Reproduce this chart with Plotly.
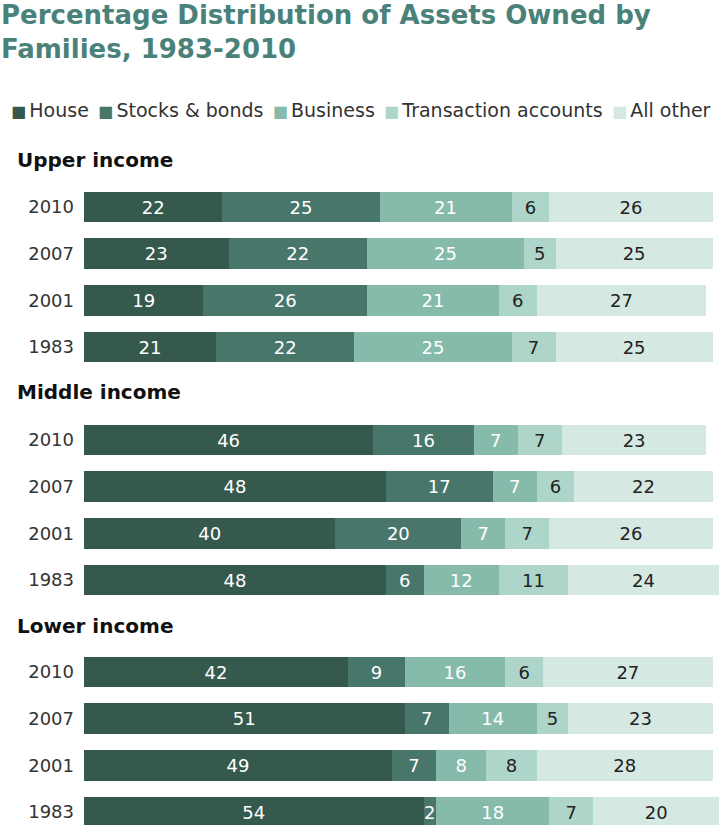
import plotly.graph_objects as go

# ---- data ----
years = ["2010", "2007", "2001", "1983"]
groups = ["Upper income", "Middle income", "Lower income"]
series = ["House", "Stocks & bonds", "Business", "Transaction accounts", "All other"]

# values ordered: Upper (2010, 2007, 2001, 1983), Middle (...), Lower (...)
house       = [22, 23, 19, 21,  46, 48, 40, 48,  42, 51, 49, 54]
stocks      = [25, 22, 26, 22,  16, 17, 20, 6,   9, 7, 7, 2]
business    = [21, 25, 21, 25,  7, 7, 7, 12,     16, 14, 8, 18]
transaction = [6, 5, 6, 7,      7, 6, 7, 11,     6, 5, 8, 7]
all_other   = [26, 25, 27, 25,  23, 22, 26, 24,  27, 23, 28, 20]

values = [house, stocks, business, transaction, all_other]
colors = ["#36594d", "#48766a", "#86bbab", "#aed5c9", "#d5e8e2"]
text_colors = ["#ffffff", "#ffffff", "#ffffff", "#222222", "#222222"]

title_text = "Percentage Distribution of Assets Owned by<br>Families, 1983-2010"

# ---- layout helpers (pixels -> paper) ----
W, H = 719, 825
ML = 84
PW = W - ML


def py(p):
    return 1 - p / H


def px(p):
    return (p - ML) / PW


row_px = 46.67
sub_tops = [183.7, 416.7, 648.7]
header_y = [160, 392, 626]

fig = go.Figure()

for g in range(3):
    ax = "" if g == 0 else str(g + 1)
    for s in range(5):
        vals = values[s][g * 4:(g + 1) * 4]
        fig.add_trace(go.Bar(
            y=years,
            x=vals,
            orientation="h",
            name=series[s],
            marker=dict(color=colors[s], line=dict(width=0)),
            text=[str(v) for v in vals],
            textposition="inside",
            insidetextanchor="middle",
            textangle=0,
            insidetextfont=dict(family="DejaVu Sans", size=18, color=text_colors[s]),
            width=0.66,
            showlegend=False,
            hoverinfo="skip",
            xaxis="x" + ax,
            yaxis="y" + ax,
        ))

layout_axes = {}
for g in range(3):
    ax = "" if g == 0 else str(g + 1)
    top = sub_tops[g]
    bottom = min(top + 4 * row_px, H)
    rng_bottom = -0.5 + (bottom - top) / row_px
    layout_axes["xaxis" + ax] = dict(domain=[0, 1], range=[0, 101], visible=False,
                                     anchor="y" + ax, fixedrange=True)
    layout_axes["yaxis" + ax] = dict(domain=[py(bottom), py(top)], anchor="x" + ax,
                                     type="category", categoryorder="array",
                                     categoryarray=years, range=[rng_bottom, -0.5],
                                     showgrid=False, zeroline=False, showline=False,
                                     ticks="", ticklabelstandoff=9,
                                     tickfont=dict(family="DejaVu Sans", size=18, color="#333333"),
                                     fixedrange=True)

fig.update_layout(**layout_axes)

annotations = []
# title
annotations.append(dict(text=title_text, xref="paper", yref="paper",
                        x=px(-1), y=py(32), xanchor="left", yanchor="middle", align="left",
                        showarrow=False,
                        font=dict(family="DejaVu Sans", size=26, color="#4a827a", weight="bold")))
# group headers
for g in range(3):
    annotations.append(dict(text=groups[g], xref="paper", yref="paper",
                            x=px(15), y=py(header_y[g]), xanchor="left", yanchor="middle",
                            showarrow=False,
                            font=dict(family="DejaVu Sans", size=20, color="#111111", weight="bold")))
# legend row
legend_text = "&nbsp;<span style='font-size:10px'>&nbsp;</span>".join(
    f"<span style='color:{c};font-size:16px'>■</span><span style='font-size:10px'>&nbsp;</span>{n}"
    for n, c in zip(series, colors)
)
annotations.append(dict(text=legend_text, xref="paper", yref="paper",
                        x=px(9), y=py(110), xanchor="left", yanchor="middle", showarrow=False,
                        font=dict(family="DejaVu Sans", size=19, color="#333333")))

fig.update_layout(
    width=W, height=H,
    margin=dict(l=ML, r=0, t=0, b=0),
    paper_bgcolor="white", plot_bgcolor="white",
    barmode="stack",
    showlegend=False,
    hovermode=False,
    uniformtext=dict(minsize=18, mode="show"),
    annotations=annotations,
)

fig.write_html("out.html", config={"displayModeBar": False})
